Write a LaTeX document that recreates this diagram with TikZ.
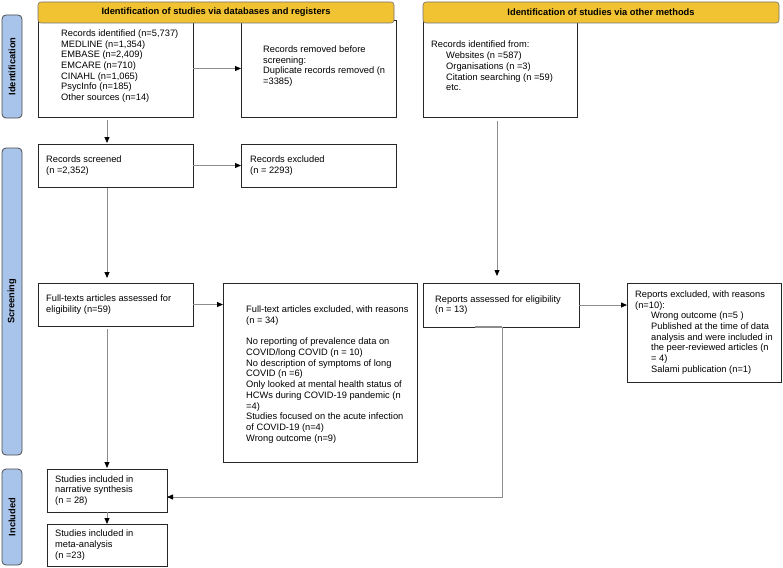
\documentclass[tikz,border=0pt]{standalone}
\usepackage{fontspec}
\setmainfont{Liberation Sans}
\usetikzlibrary{arrows.meta}
\definecolor{hdr}{HTML}{F1C232}
\definecolor{barblue}{HTML}{A9C4EB}
\definecolor{connc}{HTML}{8C8C8C}
\begin{document}
\begin{tikzpicture}[x=1pt,y=-1pt,
  box/.style={draw=black!85, line width=0.9pt, fill=white, inner sep=0pt, outer sep=0pt},
  txt/.style={anchor=west, inner sep=0pt, align=left, font=\fontsize{9.3}{10.7}\selectfont},
  hdrbox/.style={draw=black!55, line width=0.6pt, fill=hdr, rounded corners=3pt, inner sep=0pt, font=\bfseries\fontsize{9.3}{10.7}\selectfont, minimum width=356pt, minimum height=21pt},
  sidebar/.style={draw=black!70, line width=0.8pt, fill=barblue, rounded corners=4pt, rotate=90, inner sep=0pt, minimum height=20pt, font=\bfseries\fontsize{9.3}{10.7}\selectfont},
  conn/.style={draw=connc, line width=0.8pt, -{Triangle[length=6pt,width=5pt,color=black]}},
  plainconn/.style={draw=connc, line width=0.8pt},
]
\useasboundingbox (0,0) rectangle (783,567);

% side bars
\node[sidebar, minimum width=103pt] (sbI) at (12,66.5) {Identification};
\node[sidebar, minimum width=307pt] (sbS) at (12,301.5) {Screening};
\node[sidebar, minimum width=96pt] (sbN) at (12,517) {Included};

% boxes
\node[box, minimum width=155pt, minimum height=97pt] (ident) at (115.5,68.5) {};
\node[box, minimum width=155pt, minimum height=97pt] (removed) at (318.5,68.5) {};
\node[box, minimum width=154pt, minimum height=97pt] (other) at (500,68.5) {};
\node[box, minimum width=155pt, minimum height=43pt] (screened) at (115.5,165.5) {};
\node[box, minimum width=155pt, minimum height=43pt] (excl) at (318.5,165.5) {};
\node[box, minimum width=155pt, minimum height=43pt] (full) at (115.5,304.5) {};
\node[box, minimum width=194pt, minimum height=179pt] (fexcl) at (320,372.5) {};
\node[box, minimum width=156pt, minimum height=44pt] (rep) at (501,305) {};
\node[box, minimum width=154pt, minimum height=99pt] (repexcl) at (704,332.5) {};
\node[box, minimum width=120pt, minimum height=43pt] (narr) at (107,490.5) {};
\node[box, minimum width=120pt, minimum height=42pt] (meta) at (107,545) {};

% headers
\node[hdrbox] (hdrL) at (216,12.5) {Identification of studies via databases and registers};
\node[hdrbox] (hdrR) at (601,12.5) {Identification of studies via other methods};

% texts
\node[txt] (tIdent) at ([xshift=23pt,yshift=2.5pt]ident.west) {Records identified (n=5,737)\\MEDLINE (n=1,354)\\EMBASE (n=2,409)\\EMCARE (n=710)\\CINAHL (n=1,065)\\PsycInfo (n=185)\\Other sources (n=14)};
\node[txt] (tRemoved) at ([xshift=22pt,yshift=2.5pt]removed.west) {Records removed before\\screening:\\Duplicate records removed (n\\=3385)};
\node[txt] (tOther) at ([xshift=8pt,yshift=2.5pt]other.west) {Records identified from:\\\hspace*{15pt}Websites (n =587)\\\hspace*{15pt}Organisations (n =3)\\\hspace*{15pt}Citation searching (n =59)\\\hspace*{15pt}etc.};
\node[txt] (tScreened) at ([xshift=8pt]screened.west) {Records screened\\(n =2,352)};
\node[txt] (tExcl) at ([xshift=9pt]excl.west) {Records excluded\\(n = 2293)};
\node[txt] (tFull) at ([xshift=8pt]full.west) {Full-texts articles assessed for\\eligibility (n=59)};
\node[txt] (tFexcl) at ([xshift=23pt,yshift=-2pt]fexcl.west) {Full-text articles excluded, with reasons\\(n = 34)\\[10.7pt]No reporting of prevalence data on\\COVID/long COVID (n = 10)\\No description of symptoms of long\\COVID (n =6)\\Only looked at mental health status of\\HCWs during COVID-19 pandemic (n\\=4)\\Studies focused on the acute infection\\of COVID-19 (n=4)\\Wrong outcome (n=9)};
\node[txt] (tRep) at ([xshift=12pt]rep.west) {Reports assessed for eligibility\\(n = 13)};
\node[txt] (tRepexcl) at ([xshift=8pt]repexcl.west) {Reports excluded, with reasons\\(n=10):\\\hspace*{16pt}Wrong outcome (n=5 )\\\hspace*{16pt}Published at the time of data\\\hspace*{16pt}analysis and were included in\\\hspace*{16pt}the peer-reviewed articles (n\\\hspace*{16pt}= 4)\\\hspace*{16pt}Salami publication (n=1)};
\node[txt] (tNarr) at ([xshift=8pt]narr.west) {Studies included in\\narrative synthesis\\(n = 28)};
\node[txt] (tMeta) at ([xshift=8pt]meta.west) {Studies included in\\meta-analysis\\(n =23)};

% connectors
\coordinate (colL) at (107,0);
\coordinate (colR) at (497,0);
\coordinate (corner) at (502,497);
\draw[conn, shorten <=3pt, shorten >=1pt] (ident.south -| colL) -- (screened.north -| colL);
\draw[conn] (ident.east) -- (removed.west);
\draw[conn] (screened.east) -- (excl.west);
\draw[conn, shorten <=1pt, shorten >=5pt] (screened.south -| colL) -- (full.north -| colL);
\draw[conn] (full.east) -- (full.east -| fexcl.west);
\draw[conn, shorten <=3pt, shorten >=1pt] (full.south -| colL) -- (narr.north);
\draw[conn] (narr.south) -- (meta.north);
\draw[conn, shorten <=4pt, shorten >=7pt] (other.south -| colR) -- (rep.north -| colR);
\draw[conn] (rep.east) -- (repexcl.west |- rep.east);
\path (rep.south -| corner) coordinate (rs);
\draw[plainconn, line width=1.6pt] ([xshift=-27pt]rs) -- (rs);
\draw[conn] (rs) -- (corner) -- (corner -| narr.east);
\end{tikzpicture}
\end{document}
